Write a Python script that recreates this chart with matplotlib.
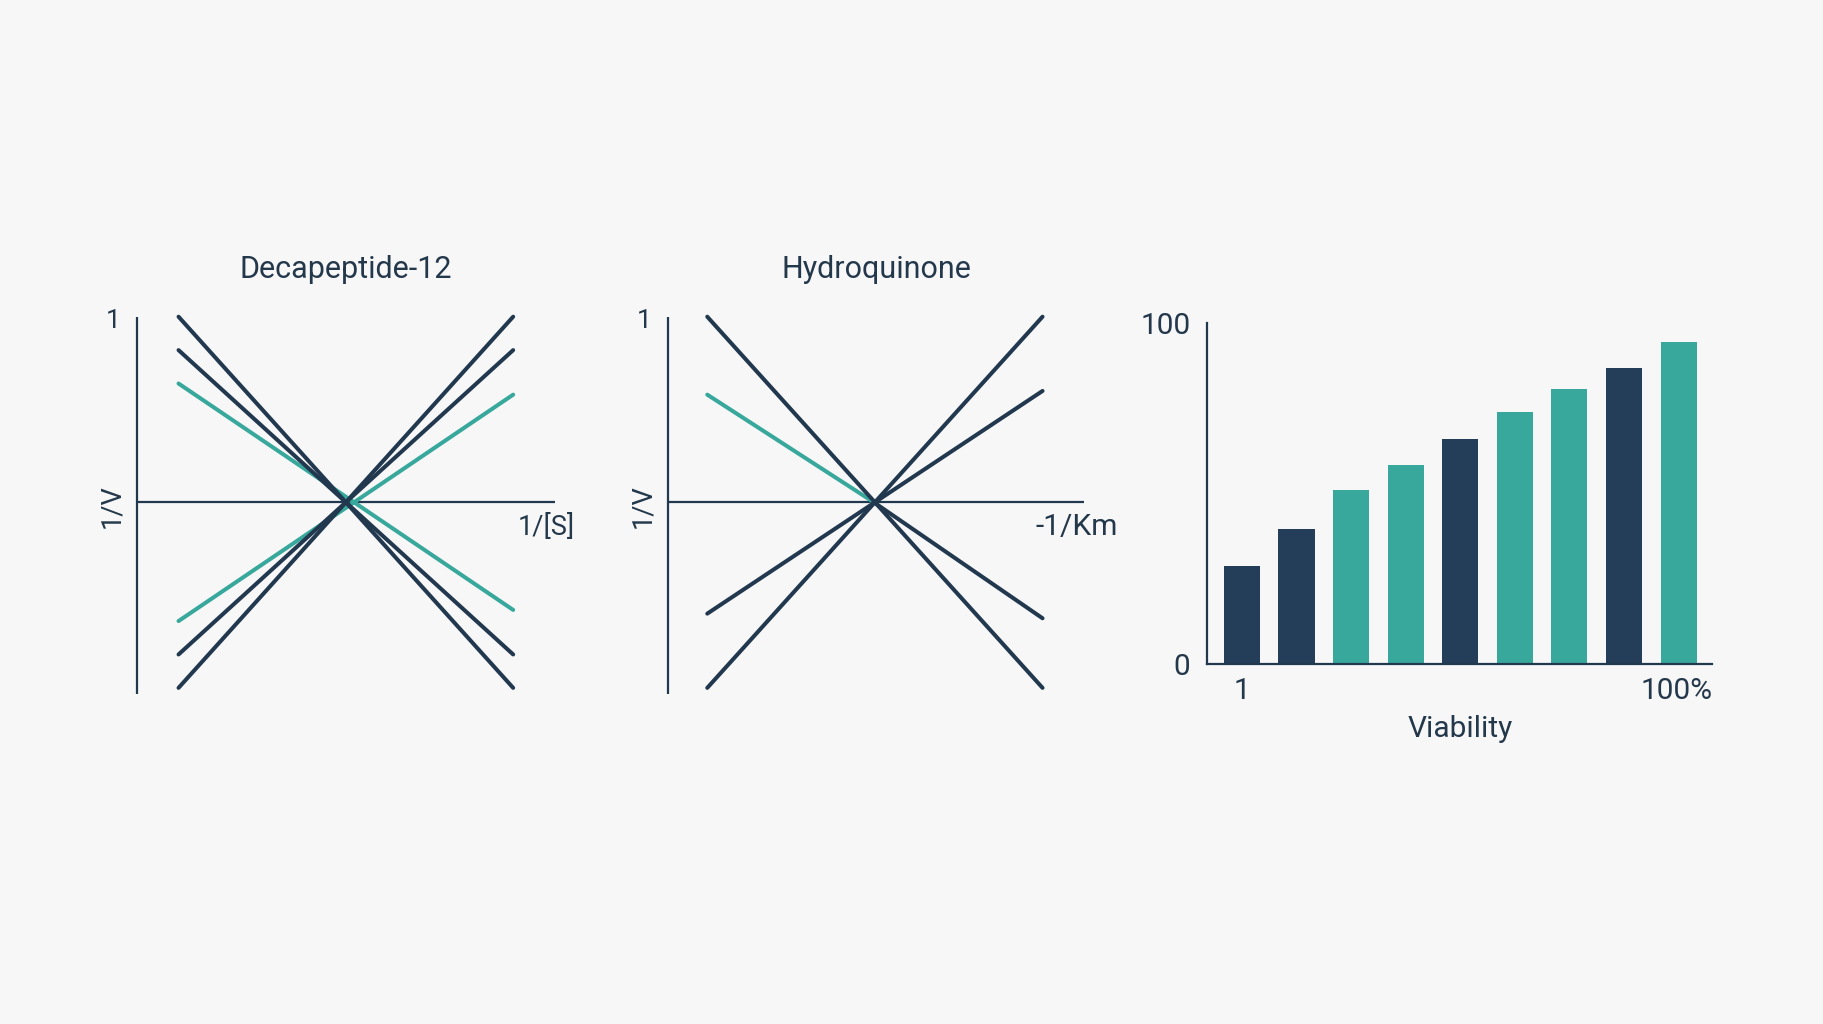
import numpy as np
import matplotlib.pyplot as plt

plt.rcParams['font.family'] = ['Roboto', 'DejaVu Sans']

# colours
navy = '#21384f'
bar_navy = '#243d58'
teal = '#38a89c'
txt = '#24384b'
bg = '#f7f7f7'

# Lineweaver-Burk style lines: (y at left end, y at right end, colour)
deca_x = [0.2, 1.8]
deca_left = [1.0, -1.0, 0.82, -0.82, 0.64, -0.64]
deca_right = [-1.0, 1.0, -0.82, 0.82, -0.58, 0.58]
deca_colors = ['navy', 'navy', 'navy', 'navy', 'teal', 'teal']

hydro_x = [0.19, 1.80]
hydro_left = [1.0, -1.0, -0.60]
hydro_right = [-1.0, 1.0, 0.60]
hydro_colors = ['navy', 'navy', 'navy']
# half lines meeting at the crossing point
hydro_half_x = [[0.19, 0.99], [0.99, 1.80]]
hydro_half_y = [[0.58, 0.0], [0.0, -0.625]]
hydro_half_colors = ['teal', 'navy']

# viability bars
bar_values = [28.7, 39.6, 51.2, 58.4, 66.2, 74.1, 80.9, 87.0, 94.5]
bar_colors = ['navy', 'navy', 'teal', 'teal', 'navy', 'teal', 'teal', 'navy', 'teal']

cmap = {'navy': navy, 'teal': teal}

fig = plt.figure(figsize=(18.24, 10.24), dpi=100, facecolor=bg)
W, H = 1824, 1024


def add_ax(x0, y0, x1, y1):
    # pixel box (top-left origin) -> figure axes
    return fig.add_axes([x0 / W, 1 - y1 / H, (x1 - x0) / W, (y1 - y0) / H])


def kinetics_axes(ax, title, xlabel, label_x, label_size):
    ax.set_facecolor('none')
    ax.set_xlim(0, 2.0)
    ax.set_ylim(-1.033, 1.0)
    for s in ax.spines.values():
        s.set_visible(False)
    ax.set_xticks([])
    ax.set_yticks([])
    ax.plot([0, 0], [-1.033, 1.0], color=navy, lw=1.6, solid_capstyle='butt', clip_on=False)
    ax.plot([0, 2.0], [0, 0], color=navy, lw=1.6, solid_capstyle='butt', clip_on=False)
    ax.text(1.0, 1.255, title, ha='center', va='center', fontsize=22, color=txt)
    ax.text(-0.075, 0.977, '1', ha='right', va='center', fontsize=19, color=txt)
    ax.text(-0.12, -0.02, '1/V', ha='center', va='center', rotation=90, fontsize=19.5, color=txt)
    ax.text(label_x, -0.135, xlabel, ha='center', va='center', fontsize=label_size, color=txt)


# panel 1
ax1 = add_ax(136.7, 316.7, 555.0, 694.0)
kinetics_axes(ax1, 'Decapeptide-12', '1/[S]', 1.957, 19.5)
for yl, yr, c in zip(deca_left, deca_right, deca_colors):
    ax1.plot(deca_x, [yl, yr], color=cmap[c], lw=2.9, solid_capstyle='round', clip_on=False,
             zorder=3 if c == 'navy' else 2)

# panel 2
ax2 = add_ax(667.7, 316.7, 1084.2, 694.0)
kinetics_axes(ax2, 'Hydroquinone', '-1/Km', 1.966, 21.5)
for yl, yr, c in zip(hydro_left, hydro_right, hydro_colors):
    ax2.plot(hydro_x, [yl, yr], color=cmap[c], lw=2.9, solid_capstyle='round', clip_on=False, zorder=3)
for xs, ys, c in zip(hydro_half_x, hydro_half_y, hydro_half_colors):
    ax2.plot(xs, ys, color=cmap[c], lw=2.9, solid_capstyle='round', clip_on=False)

# panel 3
ax3 = add_ax(1207.0, 323.4, 1712.4, 664.3)
ax3.set_facecolor('none')
x = np.arange(len(bar_values))
ax3.bar(x, bar_values, width=0.66, color=[bar_navy if c == 'navy' else teal for c in bar_colors])
ax3.set_xlim(-0.64, 8.62)
ax3.set_ylim(0, 100)
for s in ['top', 'right']:
    ax3.spines[s].set_visible(False)
for s in ['left', 'bottom']:
    ax3.spines[s].set_color(navy)
    ax3.spines[s].set_linewidth(1.6)
ax3.set_yticks([0, 100])
ax3.set_yticklabels(['0', '100'], fontsize=21.5, color=txt)
ax3.tick_params(axis='y', length=0, pad=12)
ax3.set_xticks([])
ax3.text(0, -7.8, '1', ha='center', va='center', fontsize=21.5, color=txt)
ax3.text(8.62, -7.8, '100%', ha='right', va='center', fontsize=21.5, color=txt)
ax3.text(4.0, -19.1, 'Viability', ha='center', va='center', fontsize=21.5, color=txt)

fig.savefig('out.png', dpi=100, facecolor=bg)
